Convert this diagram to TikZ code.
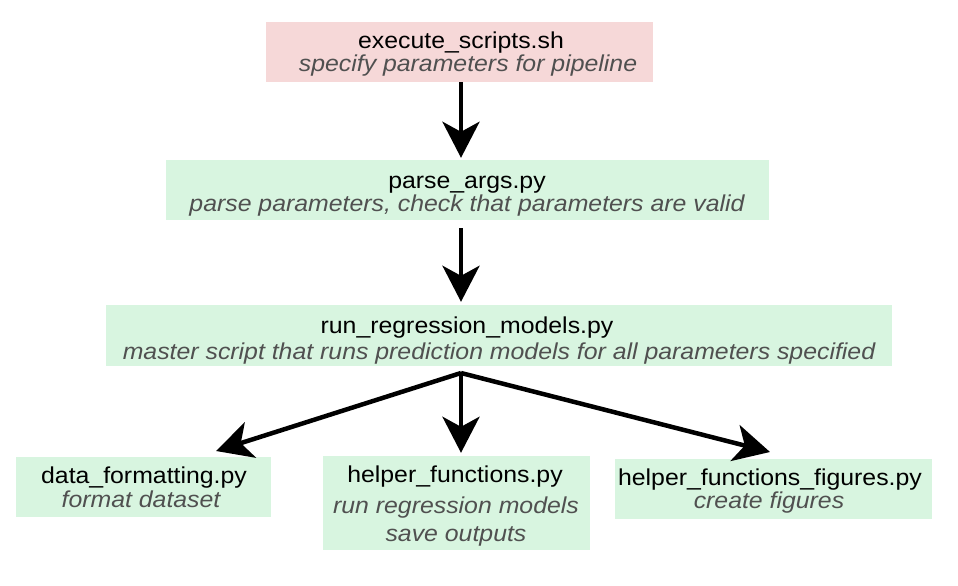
\documentclass[tikz,border=0pt]{standalone}
\usepackage{fontspec}
\setmainfont{Liberation Sans}[FakeStretch=1.08]
\usetikzlibrary{arrows.meta,calc}
\definecolor{pinkfill}{HTML}{F6D8D8}
\definecolor{greenfill}{HTML}{D8F5E0}
\definecolor{subgray}{HTML}{505050}
\tikzset{
  pinkbox/.style={fill=pinkfill, draw=none, inner sep=0pt},
  greenbox/.style={fill=greenfill, draw=none, inner sep=0pt},
  titletext/.style={anchor=base, inner sep=0pt, font=\fontsize{23}{25}\selectfont, text=black},
  subtext/.style={anchor=base, inner sep=0pt, font=\fontsize{23}{25}\selectfont\itshape, text=subgray},
  arr/.style={line width=4.5pt, -{Stealth[length=36pt, width=37pt, inset=10pt]}}
}
\begin{document}
\begin{tikzpicture}[x=1pt, y=-1pt]
\useasboundingbox (0,0) rectangle (958,586);
\fill[white] (0,0) rectangle (958,586);

% boxes
\node[pinkbox, minimum width=387pt, minimum height=60pt] (exec) at (459.5,52) {};
\node[greenbox, minimum width=603pt, minimum height=60pt] (parse) at (467.5,190) {};
\node[greenbox, minimum width=786pt, minimum height=61pt] (run) at (499,335.5) {};
\node[greenbox, minimum width=255pt, minimum height=60pt] (data) at (143.5,487) {};
\node[greenbox, minimum width=267pt, minimum height=94pt] (help) at (456.5,503) {};
\node[greenbox, minimum width=317pt, minimum height=60pt] (figs) at (773.5,489) {};

% texts
\node[titletext] (exec-t) at (461,48.5) {execute\_scripts.sh};
\node[subtext] (exec-s) at (468,71) {specify parameters for pipeline};
\node[titletext] (parse-t) at (467,188) {parse\_args.py};
\node[subtext] (parse-s) at (467,211) {parse parameters, check that parameters are valid};
\node[titletext] (run-t) at (467,333) {run\_regression\_models.py};
\node[subtext] (run-s) at (499,359) {master script that runs prediction models for all parameters specified};
\node[titletext] (data-t) at (144,483) {data\_formatting.py};
\node[subtext] (data-s) at (141,507) {format dataset};
\node[titletext] (help-t) at (455,482) {helper\_functions.py};
\node[subtext] (help-s1) at (456,513) {run regression models};
\node[subtext] (help-s2) at (456,541) {save outputs};
\node[titletext] (figs-t) at (770,485) {helper\_functions\_figures.py};
\node[subtext] (figs-s) at (769,508) {create figures};

% connectors
\coordinate (axis) at (461,0);
\coordinate (br) at (461,373);
\coordinate (tipL) at (216,451);
\coordinate (tipR) at (770,452);
\draw[arr, shorten >=2pt] (exec.south -| axis) -- (parse.north -| axis);
\draw[arr, shorten <=8pt, shorten >=3pt] (parse.south -| axis) -- (run.north -| axis);
\draw[arr] (br) -- (tipL);
\draw[arr, shorten >=3pt] (br) -- (help.north -| axis);
\draw[arr] (br) -- (tipR);
\end{tikzpicture}
\end{document}
